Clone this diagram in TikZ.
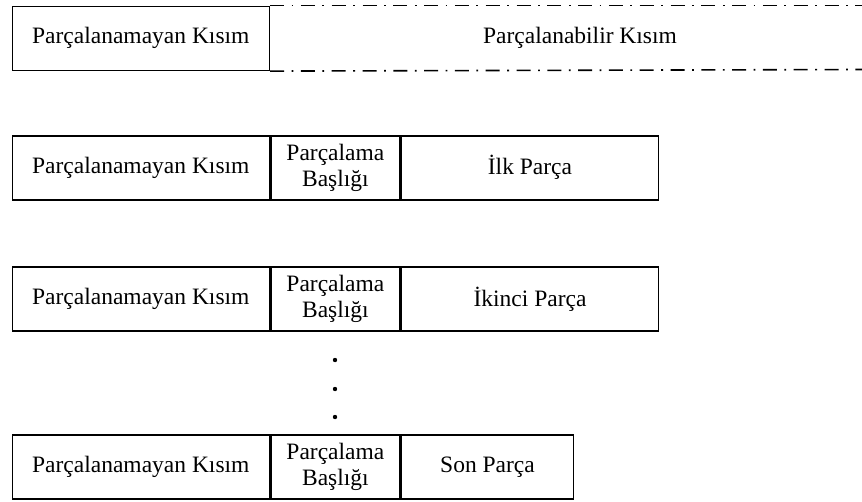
\documentclass[tikz,border=0pt]{standalone}
\usepackage{fontspec}
\setmainfont{Liberation Serif}
\begin{document}
\begin{tikzpicture}[x=1pt,y=-1pt,
  cell/.style={draw,line width=1.6pt,rectangle,inner sep=0pt,anchor=north west,minimum height=64pt,align=center,font=\fontsize{23.5}{26}\selectfont},
  lbl/.style={inner sep=0pt,align=center,font=\fontsize{23.5}{26}\selectfont},
  dd/.style={line width=1.6pt,dash pattern=on 14pt off 7.5pt on 1.8pt off 7.5pt}
]
\useasboundingbox (0,0) rectangle (862,501);
% row 1
\node[cell,minimum width=257pt] (a1) at (11.5,5.5) {Parçalanamayan Kısım};
\coordinate (t1) at (862,5.5);
\coordinate (b1) at (862,69.5);
\draw[dd] (a1.north east) -- (t1);
\draw[dd] (a1.south east) -- (b1);
\node[lbl] (p1) at (580,38) {Parçalanabilir Kısım};
% row 2
\node[cell,minimum width=257pt] (a2) at (11.5,135) {Parçalanamayan Kısım};
\node[cell,minimum width=129pt] (h2) at (a2.north east) {Parçalama\\Başlığı};
\node[cell,minimum width=257pt] (c2) at (h2.north east) {İlk Parça};
% row 3
\node[cell,minimum width=257pt] (a3) at (11.5,266) {Parçalanamayan Kısım};
\node[cell,minimum width=129pt] (h3) at (a3.north east) {Parçalama\\Başlığı};
\node[cell,minimum width=257pt] (c3) at (h3.north east) {İkinci Parça};
% dots
\fill (335,360) circle (2.2pt);
\fill (335,389) circle (2.2pt);
\fill (335,417) circle (2.2pt);
% row 4
\node[cell,minimum width=257pt] (a4) at (11.5,434) {Parçalanamayan Kısım};
\node[cell,minimum width=129pt] (h4) at (a4.north east) {Parçalama\\Başlığı};
\node[cell,minimum width=172pt] (c4) at (h4.north east) {Son Parça};
\end{tikzpicture}
\end{document}
